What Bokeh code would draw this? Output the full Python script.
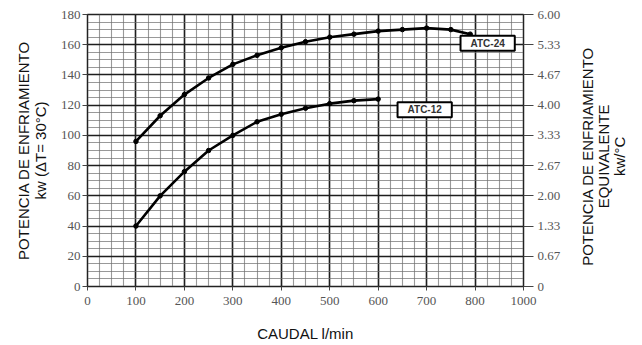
import math
from bokeh.plotting import figure
from bokeh.layouts import row
from bokeh.models import LinearAxis, FixedTicker, Range1d, Label
from bokeh.embed import file_html
from bokeh.resources import INLINE

# Axis ticks and their printed labels
flow_ticks = [0, 100, 200, 300, 400, 500, 600, 700, 800, 900]
flow_tick_labels = ["0", "100", "200", "300", "400", "500", "600", "700", "800", "1000"]
power_ticks = [0, 20, 40, 60, 80, 100, 120, 140, 160, 180]
power_tick_labels = ["0", "20", "40", "60", "80", "100", "120", "140", "160", "180"]
equiv_tick_labels = ["0", "0.67", "1.33", "2.00", "2.67", "3.33", "4.00", "4.67", "5.33", "6.00"]
equiv_title_lines = ["POTENCIA DE ENFRIAMIENTO", "EQUIVALENTE", "kw/\u00b0C"]

# Cooling power (kw, dT = 30 C) against flow (l/min)
atc24_flow = [100, 150, 200, 250, 300, 350, 400, 450, 500, 550, 600, 650, 700, 750, 790]
atc24_power = [96, 113, 127, 138, 147, 153, 158, 162, 165, 167, 169, 170, 171, 170, 167]
atc12_flow = [100, 150, 200, 250, 300, 350, 400, 450, 500, 550, 600]
atc12_power = [40, 60, 76, 90, 100, 109, 114, 118, 121, 123, 124]

series_names = ["ATC-24", "ATC-12"]

flow_minor = list(range(0, 901, 25))
power_minor = list(range(0, 181, 5))

MAIN_W, SIDE_W, H = 580, 62, 345

p = figure(width=MAIN_W, height=H, x_range=Range1d(0, 900), y_range=Range1d(0, 180),
           output_backend="svg", toolbar_location=None,
           min_border_left=87, min_border_right=57, min_border_top=14, min_border_bottom=59)
p.background_fill_color = "white"
p.outline_line_color = "#222222"
p.outline_line_width = 1.5

# dense graph-paper grid
p.xgrid.ticker = FixedTicker(ticks=flow_ticks, minor_ticks=flow_minor)
p.ygrid.ticker = FixedTicker(ticks=power_ticks, minor_ticks=power_minor)
for g in (p.xgrid, p.ygrid):
    g.grid_line_color = "#1e1e1e"
    g.grid_line_width = 1.6
    g.minor_grid_line_color = "#6e6e6e"
    g.minor_grid_line_alpha = 0.7
    g.minor_grid_line_width = 1.1

tick_font = "Liberation Serif"
label_font = "Liberation Sans"


def style_axis(ax, title, standoff, label_standoff, tick_out):
    ax.axis_label = title
    ax.axis_label_text_font = label_font
    ax.axis_label_text_font_style = "normal"
    ax.axis_label_text_font_size = "15px"
    ax.axis_label_text_line_height = 1.0
    ax.axis_label_text_color = "#111111"
    ax.axis_label_standoff = standoff
    ax.major_label_text_font = tick_font
    ax.major_label_text_font_size = "13px"
    ax.major_label_text_color = "#555555"
    ax.major_label_standoff = label_standoff
    ax.major_tick_out = tick_out
    ax.major_tick_in = 0
    ax.minor_tick_out = 0
    ax.minor_tick_in = 0
    ax.axis_line_color = "#222222"
    ax.major_tick_line_color = "#444444"


xa = p.xaxis[0]
xa.ticker = FixedTicker(ticks=flow_ticks)
xa.major_label_overrides = {t: s for t, s in zip(flow_ticks, flow_tick_labels)}
style_axis(xa, "CAUDAL l/min", 17, 6, 4)

ya = p.yaxis[0]
ya.ticker = FixedTicker(ticks=power_ticks)
ya.major_label_overrides = {t: s for t, s in zip(power_ticks, power_tick_labels)}
style_axis(ya, "POTENCIA DE ENFRIAMIENTO\nkw (\u0394T= 30\u00b0C)", 9, 2, 5)

# equivalent power, kw/C (kw divided by 30)
ra = LinearAxis(ticker=FixedTicker(ticks=power_ticks))
ra.major_label_overrides = {t: s for t, s in zip(power_ticks, equiv_tick_labels)}
style_axis(ra, "", 6, 4, 10)
p.add_layout(ra, "right")

# curves
for fx, fy in [(atc24_flow, atc24_power), (atc12_flow, atc12_power)]:
    p.line(fx, fy, line_color="black", line_width=2.6)
    p.scatter(fx, fy, size=4.5, color="black")

# boxed series names
for name, lx, ly in [(series_names[0], 770, 156), (series_names[1], 640, 112)]:
    p.add_layout(Label(x=lx, y=ly, text=name, text_font=label_font,
                       text_font_size="10px", text_font_style="bold",
                       text_color="#333333", padding=(10, 2),
                       background_fill_color="white", background_fill_alpha=1.0,
                       border_line_color="black", border_line_width=2))

# narrow strip holding the right-hand title, written bottom-to-top
side = figure(width=SIDE_W, height=H, x_range=Range1d(0, SIDE_W), y_range=Range1d(0, H),
              output_backend="svg", toolbar_location=None,
              x_axis_location=None, y_axis_location=None, min_border=0)
side.outline_line_color = None
side.xgrid.visible = False
side.ygrid.visible = False
for i, line in enumerate(equiv_title_lines):
    side.add_layout(Label(x=7 + 16 * i, y=H - 180, text=line, angle=math.pi / 2,
                          text_align="center", text_baseline="middle",
                          text_font=label_font, text_font_size="15px",
                          text_color="#111111"))

layout = row(p, side, spacing=0)
open("out.html", "w").write(file_html(layout, INLINE))
